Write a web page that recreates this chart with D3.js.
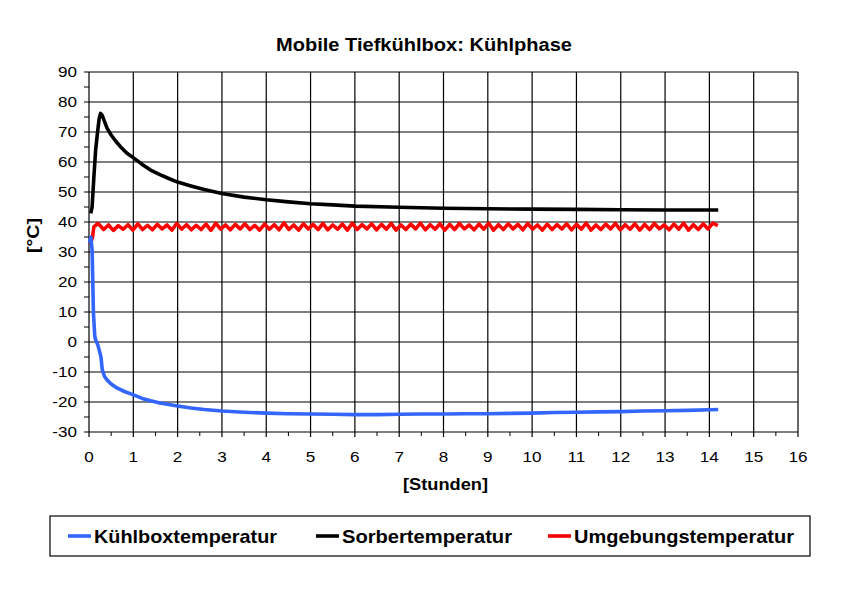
<!DOCTYPE html>
<html>
<head>
<meta charset="utf-8">
<script src="https://cdn.jsdelivr.net/npm/d3@7"></script>
<style>
  body { margin: 0; background: #fff; }
  text { font-family: "Liberation Sans", Arial, sans-serif; fill: #000; }
</style>
</head>
<body>
<svg id="chart" width="842" height="595"></svg>
<script>
// ---- data ----
var xTicks = [0,1,2,3,4,5,6,7,8,9,10,11,12,13,14,15,16];
var yTicks = [-30,-20,-10,0,10,20,30,40,50,60,70,80,90];

// Kühlboxtemperatur
var blueHours = [0.02,0.04,0.07,0.1,0.13,0.15,0.2,0.23,0.27,0.3,0.35,0.41,0.5,0.64,0.8,1.02,1.2,1.39,1.6,1.8,2,2.3,2.6,3,3.5,4,4.5,5,5.5,6,6.5,7,7.5,8,8.5,9,9.5,10,10.5,11,11.5,12,12.5,13,13.5,14,14.2];
var blueTemps = [33,35,30.7,9.6,2,0.7,-1,-2.7,-5,-9.3,-11.5,-12.7,-14,-15.4,-16.5,-17.7,-18.8,-19.6,-20.3,-20.8,-21.3,-22,-22.5,-23,-23.4,-23.7,-23.9,-24,-24.1,-24.2,-24.2,-24.1,-24,-24,-23.9,-23.9,-23.8,-23.7,-23.5,-23.4,-23.3,-23.2,-23,-22.9,-22.8,-22.6,-22.5];

// Sorbertemperatur
var blackHours = [0.04,0.07,0.11,0.15,0.19,0.23,0.26,0.3,0.35,0.41,0.5,0.6,0.71,0.85,1.02,1.2,1.39,1.6,1.8,2,2.3,2.6,3,3.5,4,4.5,5,5.5,6,7,8,9,10,11,12,13,14,14.2];
var blackTemps = [42.9,45,55,64,69.6,74.5,76.2,75.5,73.5,71.2,69,67,65.1,63,61.2,59.2,57.3,55.8,54.5,53.3,52,50.8,49.5,48.3,47.4,46.7,46.1,45.7,45.3,44.9,44.6,44.4,44.3,44.2,44.1,44,44,44];

// Umgebungstemperatur: start-up, then samples every 0.11 h
var redStartHours = [0.02,0.04,0.08,0.11,0.15,0.19];
var redStartTemps = [32.5,33,35,38.4,38.8,39.5];
var redFirstHour = 0.22, redStep = 0.11;
var redTemps = [39.3,37.5,39.0,37.2,38.8,37.6,39.1,37.3,39.4,37.5,38.9,37.4,39.2,37.7,39.0,37.3,
  39.5,37.6,39.1,37.4,38.9,37.5,39.3,37.2,39.6,37.6,39.0,37.4,39.2,37.7,39.4,37.5,
  38.9,37.3,39.3,37.6,39.1,37.4,39.7,37.5,39.0,37.3,39.4,37.7,39.2,37.5,39.5,37.4,
  39.0,37.6,39.3,37.3,39.6,37.5,39.1,37.7,39.4,37.4,39.2,37.6,39.5,37.3,39.0,37.5,
  39.3,37.7,39.6,37.4,39.1,37.6,39.4,37.3,39.2,37.5,39.5,37.7,39.0,37.4,39.3,37.6,
  39.6,37.3,39.1,37.5,39.4,37.7,39.2,37.4,39.5,37.6,39.0,37.3,39.3,37.5,39.1,37.7,
  39.4,37.4,39.2,37.6,39.6,37.3,39.0,37.5,39.3,37.7,39.5,37.4,39.1,37.6,39.4,37.3,
  39.2,37.5,39.5,37.7,39.0,37.4,39.3,37.6,39.6,37.3,39.1,37.5,39.4,37.7,39.6,38.8];

var seriesNames = ["Kühlboxtemperatur","Sorbertemperatur","Umgebungstemperatur"];
var seriesColors = ["#3366ff","#000000","#ff0000"];

// ---- build ----
var svg = d3.select("#chart");
var x = d3.scaleLinear().domain([0,16]).range([89,798]);
var y = d3.scaleLinear().domain([-30,90]).range([432,72]);

// grid
svg.append("g").selectAll("line.v")
  .data(xTicks).enter().append("line")
  .attr("x1", function(d){ return x(d); }).attr("x2", function(d){ return x(d); })
  .attr("y1", y(90)).attr("y2", y(-30) + 5)
  .attr("stroke", "#000").attr("stroke-width", 1.2);
svg.append("g").selectAll("line.h")
  .data(yTicks).enter().append("line")
  .attr("x1", x(0) - 5).attr("x2", x(16))
  .attr("y1", function(d){ return y(d); }).attr("y2", function(d){ return y(d); })
  .attr("stroke", "#000").attr("stroke-width", 1.2);

// minor ticks
svg.append("g").selectAll("line")
  .data(d3.range(0.5, 16, 1)).enter().append("line")
  .attr("x1", function(d){ return x(d); }).attr("x2", function(d){ return x(d); })
  .attr("y1", y(-30)).attr("y2", y(-30) + 4)
  .attr("stroke", "#000").attr("stroke-width", 1);
svg.append("g").selectAll("line")
  .data(d3.range(-25, 90, 10)).enter().append("line")
  .attr("x1", x(0) - 5).attr("x2", x(0))
  .attr("y1", function(d){ return y(d); }).attr("y2", function(d){ return y(d); })
  .attr("stroke", "#000").attr("stroke-width", 1);

// tick labels (the original font is a bit wide, so stretch it)
svg.append("g").selectAll("text")
  .data(xTicks).enter().append("text")
  .attr("transform", function(d){ return "translate(" + x(d) + ",462) scale(1.18,1)"; })
  .attr("text-anchor", "middle").style("font-size", "14.5px")
  .text(function(d){ return d; });
svg.append("g").selectAll("text")
  .data(yTicks).enter().append("text")
  .attr("transform", function(d){ return "translate(77," + y(d) + ") scale(1.18,1)"; })
  .attr("dy", "0.36em")
  .attr("text-anchor", "end").style("font-size", "14.5px")
  .text(function(d){ return d; });

// titles
svg.append("text").attr("x", 276).attr("y", 51)
  .style("font-size", "17.5px").style("font-weight", "bold")
  .attr("textLength", 296).attr("lengthAdjust", "spacingAndGlyphs")
  .text("Mobile Tiefkühlbox: Kühlphase");
svg.append("text").attr("x", 403).attr("y", 490)
  .style("font-size", "17px").style("font-weight", "bold")
  .attr("textLength", 85).attr("lengthAdjust", "spacingAndGlyphs")
  .text("[Stunden]");
svg.append("text").attr("transform", "translate(39,253) rotate(-90)")
  .style("font-size", "17px").style("font-weight", "bold")
  .attr("textLength", 35).attr("lengthAdjust", "spacingAndGlyphs")
  .text("[°C]");

// series
var line = d3.line()
  .x(function(d){ return x(d[0]); })
  .y(function(d){ return y(d[1]); });

var blue = blueHours.map(function(h,i){ return [h, blueTemps[i]]; });
var black = blackHours.map(function(h,i){ return [h, blackTemps[i]]; });
var red = redStartHours.map(function(h,i){ return [h, redStartTemps[i]]; })
  .concat(redTemps.map(function(t,i){ return [redFirstHour + i*redStep, t]; }));

[red, black, blue].forEach(function(pts, k){
  svg.append("path")
    .attr("d", line(pts))
    .attr("fill", "none")
    .attr("stroke", [seriesColors[2], seriesColors[1], seriesColors[0]][k])
    .attr("stroke-width", 3.6)
    .attr("stroke-linejoin", "round");
});

// legend
svg.append("rect").attr("x", 50).attr("y", 516).attr("width", 760).attr("height", 40)
  .attr("fill", "#fff").attr("stroke", "#000").attr("stroke-width", 1.2);
var legendX = [68, 316, 548];
var legendW = [183, 170, 220];
var leg = svg.append("g").selectAll("g")
  .data(seriesNames).enter().append("g")
  .attr("transform", function(d,i){ return "translate(" + legendX[i] + ",536)"; });
leg.append("line").attr("x1", 0).attr("x2", 23).attr("y1", 0).attr("y2", 0)
  .attr("stroke", function(d,i){ return seriesColors[i]; }).attr("stroke-width", 3.6);
leg.append("text").attr("x", 26).attr("y", 7)
  .style("font-size", "19px").style("font-weight", "bold")
  .attr("textLength", function(d,i){ return legendW[i]; })
  .attr("lengthAdjust", "spacingAndGlyphs")
  .text(function(d){ return d; });
</script>
</body>
</html>
